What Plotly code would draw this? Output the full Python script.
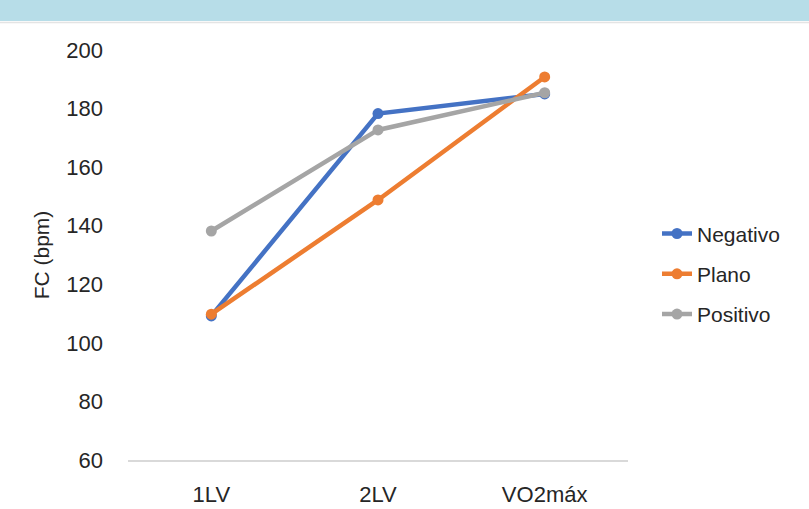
import plotly.graph_objects as go

categories = ["1LV", "2LV", "VO2máx"]
negativo = [109.2, 178.3, 185.0]
plano = [109.8, 148.8, 190.8]
positivo = [138.2, 172.7, 185.4]

series_names = ["Negativo", "Plano", "Positivo"]
series_values = [negativo, plano, positivo]
colors = ["#4472C4", "#ED7D31", "#A5A5A5"]

W, H = 809, 509
ML, MR, MT, MB = 128, 181, 50, 49
plot_h = H - MT - MB

def py(p):
    return 1 + (MT - p) / plot_h

FONT = "Liberation Sans, Arial, sans-serif"
TXT = "#262626"

fig = go.Figure()
for name, vals, c in zip(series_names, series_values, colors):
    fig.add_trace(go.Scatter(
        x=categories, y=vals, name=name, mode="lines+markers",
        line=dict(color=c, width=4.5),
        marker=dict(color=c, size=11),
        legendgroup=name,
    ))

fig.update_layout(
    width=W, height=H,
    margin=dict(l=ML, r=MR, t=MT, b=MB, autoexpand=False),
    paper_bgcolor="white", plot_bgcolor="white",
    font=dict(family=FONT, size=21, color=TXT),
    showlegend=True,
    legend=dict(
        x=1.058, xanchor="left", y=0.454, yanchor="middle",
        traceorder="grouped", tracegroupgap=10,
        font=dict(family=FONT, size=21, color=TXT),
        bgcolor="rgba(0,0,0,0)",
    ),
    xaxis=dict(
        type="category", range=[-0.5, 2.5],
        showgrid=False, zeroline=False, automargin=False,
        showline=True, linecolor="#D9D9D9", linewidth=1.5,
        ticks="", ticklabelstandoff=14,
        tickfont=dict(family=FONT, size=22, color=TXT),
        fixedrange=True,
    ),
    yaxis=dict(
        range=[60, 200], dtick=20, tick0=60, automargin=False,
        showgrid=False, zeroline=False, showline=False,
        ticks="", ticklabelstandoff=24,
        tickfont=dict(family=FONT, size=22, color=TXT),
        title=dict(text="FC (bpm)", font=dict(family=FONT, size=21, color=TXT), standoff=10),
    ),
    shapes=[
        dict(type="rect", xref="paper", yref="paper",
             x0=-ML / (W - ML - MR), x1=(W - ML) / (W - ML - MR),
             y0=py(21), y1=py(0) + 0.01,
             fillcolor="#B7DDE8", line=dict(width=0), layer="below"),
        dict(type="line", xref="paper", yref="paper",
             x0=-ML / (W - ML - MR), x1=(W - ML) / (W - ML - MR),
             y0=py(22.5), y1=py(22.5),
             line=dict(color="#E4E4E4", width=1.5)),
    ],
)

fig.write_html(
    "out.html",
    config={"displayModeBar": False},
    post_script="document.body.style.margin='0px';document.body.style.overflow='hidden';",
)
